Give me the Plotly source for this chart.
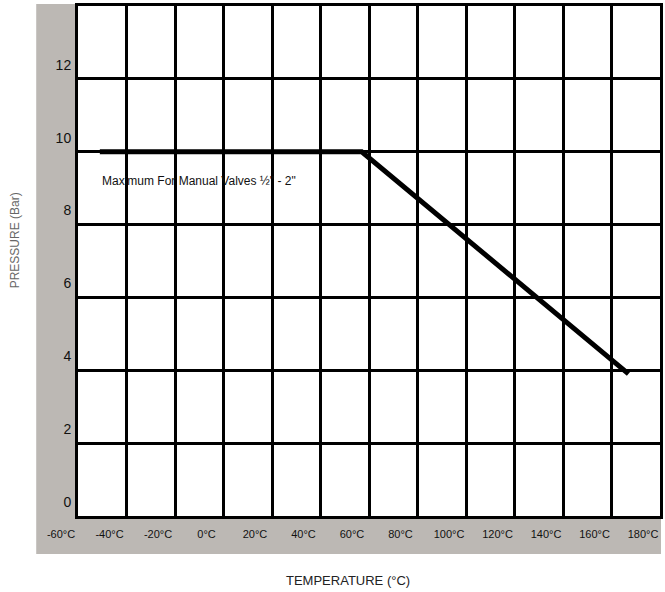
import plotly.graph_objects as go

# Data
temperature_c = [-51, 57, 167]
pressure_bar = [10, 10, 3.9]

x_tick_vals = [-60, -40, -20, 0, 20, 40, 60, 80, 100, 120, 140, 160, 180]
x_tick_text = ["-60°C", "-40°C", "-20°C", "0°C", "20°C", "40°C", "60°C",
               "80°C", "100°C", "120°C", "140°C", "160°C", "180°C"]
y_tick_vals = [0, 2, 4, 6, 8, 10, 12]
y_tick_text = ["0", "2", "4", "6", "8", "10", "12"]

annotation_text = "Maximum For Manual Valves ½\" - 2\""

W, H = 665, 592
ML, MR, MT, MB = 78, 2, 6, 76
PW = W - ML - MR
PH = H - MT - MB

def px_x(p):
    return (p - ML) / PW

def px_y(p):
    return (H - MB - p) / PH

FONT = "Liberation Sans, Arial, sans-serif"

fig = go.Figure()
fig.add_trace(go.Scatter(
    x=temperature_c, y=pressure_bar, mode="lines",
    line=dict(color="black", width=5), hoverinfo="skip", showlegend=False,
))

fig.update_layout(
    width=W, height=H,
    margin=dict(l=ML, r=MR, t=MT, b=MB, pad=0),
    paper_bgcolor="white", plot_bgcolor="white",
    font=dict(family=FONT, color="#222", size=12),
    showlegend=False,
    xaxis=dict(
        range=[-60, 180], tickvals=x_tick_vals, ticktext=x_tick_text,
        showgrid=True, gridcolor="black", gridwidth=2.5,
        showline=True, linecolor="black", linewidth=3, mirror=True,
        zeroline=False, ticks="", ticklabelshift=-17, ticklabelstandoff=6,
        tickfont=dict(size=11, color="#111", family=FONT),
        fixedrange=True,
    ),
    yaxis=dict(
        range=[0, 14], tickvals=y_tick_vals, ticktext=y_tick_text,
        showgrid=True, gridcolor="black", gridwidth=3,
        showline=True, linecolor="black", linewidth=3, mirror=True,
        zeroline=False, ticks="", ticklabelshift=-14, ticklabelstandoff=1,
        tickfont=dict(size=14, color="#111", family=FONT),
        fixedrange=True,
    ),
    shapes=[
        dict(type="rect", xref="paper", yref="paper", layer="below",
             x0=px_x(36), x1=px_x(664), y0=px_y(554), y1=px_y(4),
             fillcolor="#bcb8b4", line=dict(width=0)),
        dict(type="rect", xref="paper", yref="paper", layer="below",
             x0=0, x1=1, y0=0, y1=1,
             fillcolor="white", line=dict(width=0)),
    ],
    annotations=[
        dict(x=-51, y=9.2, xref="x", yref="y", text=annotation_text,
             showarrow=False, xanchor="left", yanchor="middle",
             font=dict(size=12, color="#111", family=FONT)),
        dict(x=px_x(349), y=px_y(580), xref="paper", yref="paper",
             text="TEMPERATURE (°C)", showarrow=False,
             xanchor="center", yanchor="middle",
             font=dict(size=13, color="#222", family=FONT)),
        dict(x=px_x(15), y=px_y(240), xref="paper", yref="paper",
             text="PRESSURE (Bar)", showarrow=False, textangle=-90,
             xanchor="center", yanchor="middle",
             font=dict(size=12, color="#666", family=FONT)),
    ],
)

fig.write_html(
    "out.html",
    config={"displayModeBar": False},
    post_script="document.body.style.margin='0';document.body.style.padding='0';",
)
